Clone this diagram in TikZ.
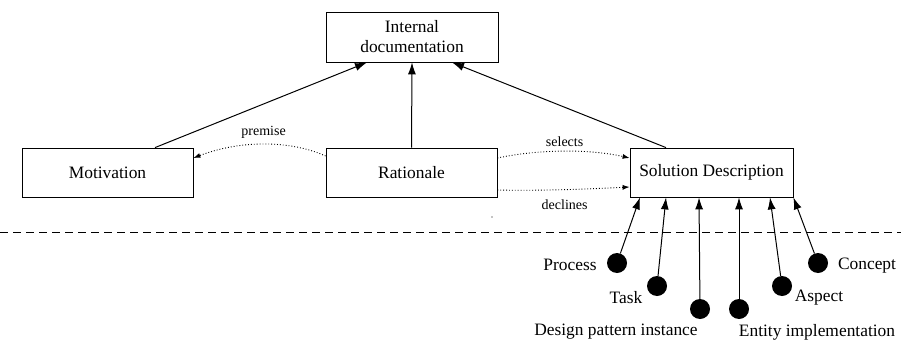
\documentclass[tikz,border=0pt]{standalone}
\usepackage{fontspec}
\setmainfont{Liberation Serif}
\newfontfamily\tms{Liberation Serif}
\usetikzlibrary{arrows.meta}
\begin{document}
\begin{tikzpicture}[x=1pt,y=-1pt,
  box/.style={draw, line width=0.8pt, inner sep=0pt, minimum height=49pt, font=\tms\fontsize{17.4}{20}\selectfont, align=center},
  dot/.style={circle, fill=black, inner sep=0pt, minimum size=20pt},
  lbl/.style={font=\tms\fontsize{17.4}{20}\selectfont, inner sep=0pt},
  small/.style={font=\tms\fontsize{14}{16}\selectfont, inner sep=0pt},
  solidarr/.style={line width=1pt, -{Latex[length=12pt,width=8pt]}},
  dotarr/.style={line width=0.9pt, dotted, -{Latex[length=7pt,width=5pt]}}]
\useasboundingbox (0,0) rectangle (901,345);
% boxes
\node[box, minimum width=172pt, minimum height=50pt] (int) at (412,37) {Internal\\documentation};
\node[box, minimum width=171pt] (mot) at (107.5,172.5) {Motivation};
\node[box, minimum width=171pt] (rat) at (411.5,172.5) {Rationale};
\node[box, minimum width=163pt] (sol) at (711.5,172.5) {Solution Description};
% solid arrows to internal documentation
\draw[solidarr] ([xshift=47.5pt]mot.north) -- ([xshift=-45pt]int.south);
\draw[solidarr] (rat.north) -- (int.south);
\draw[solidarr] ([xshift=-45.5pt]sol.north) -- ([xshift=40pt]int.south);
% dotted relations
\draw[dotarr] ([yshift=16.5pt]rat.west) .. controls (290,140) and (240,140) .. ([yshift=14.5pt]mot.east)
  node[small, pos=0.5, above=5pt] (prem) {premise};
\draw[dotarr] ([yshift=14.5pt]rat.east) .. controls (540,149) and (590,149) .. ([yshift=14.5pt]sol.west)
  node[small, pos=0.5, above=4pt] (sel) {selects};
\draw[dotarr] ([yshift=-17.5pt]rat.east) .. controls (540,191) and (590,189) .. ([yshift=-14.5pt]sol.west)
  node[small, pos=0.5, below=10pt] (dec) {declines};
% stray dot
\fill (492,217) circle (0.7pt);
% dashed separator
\draw[dashed, line width=0.8pt, dash pattern=on 8pt off 5pt] (0,232) -- (901,232);
% circles
\node[dot] (proc) at (617,263) {};
\node[dot] (task) at (657,286) {};
\node[dot] (dpi) at (700,309) {};
\node[dot] (ent) at (739,309) {};
\node[dot] (asp) at (782,286) {};
\node[dot] (conc) at (818,263) {};
% labels
\node[lbl] (lproc) at (570,265) {Process};
\node[lbl] (ltask) at (626,298) {Task};
\node[lbl] (ldpi) at (616,332) {Design pattern instance};
\node[lbl] (lent) at (817,332) {Entity implementation};
\node[lbl] (lasp) at (819,298) {Aspect};
\node[lbl] (lconc) at (867,266) {Concept};
% arrows from circles
\draw[solidarr] (proc) -- ([xshift=-71.5pt]sol.south);
\draw[solidarr] (task) -- ([xshift=-45.5pt]sol.south);
\draw[solidarr] (dpi) -- ([xshift=-12.5pt]sol.south);
\draw[solidarr] (ent) -- ([xshift=27.5pt]sol.south);
\draw[solidarr] (asp) -- ([xshift=58.5pt]sol.south);
\draw[solidarr] (conc) -- (sol.south east);
\end{tikzpicture}
\end{document}
